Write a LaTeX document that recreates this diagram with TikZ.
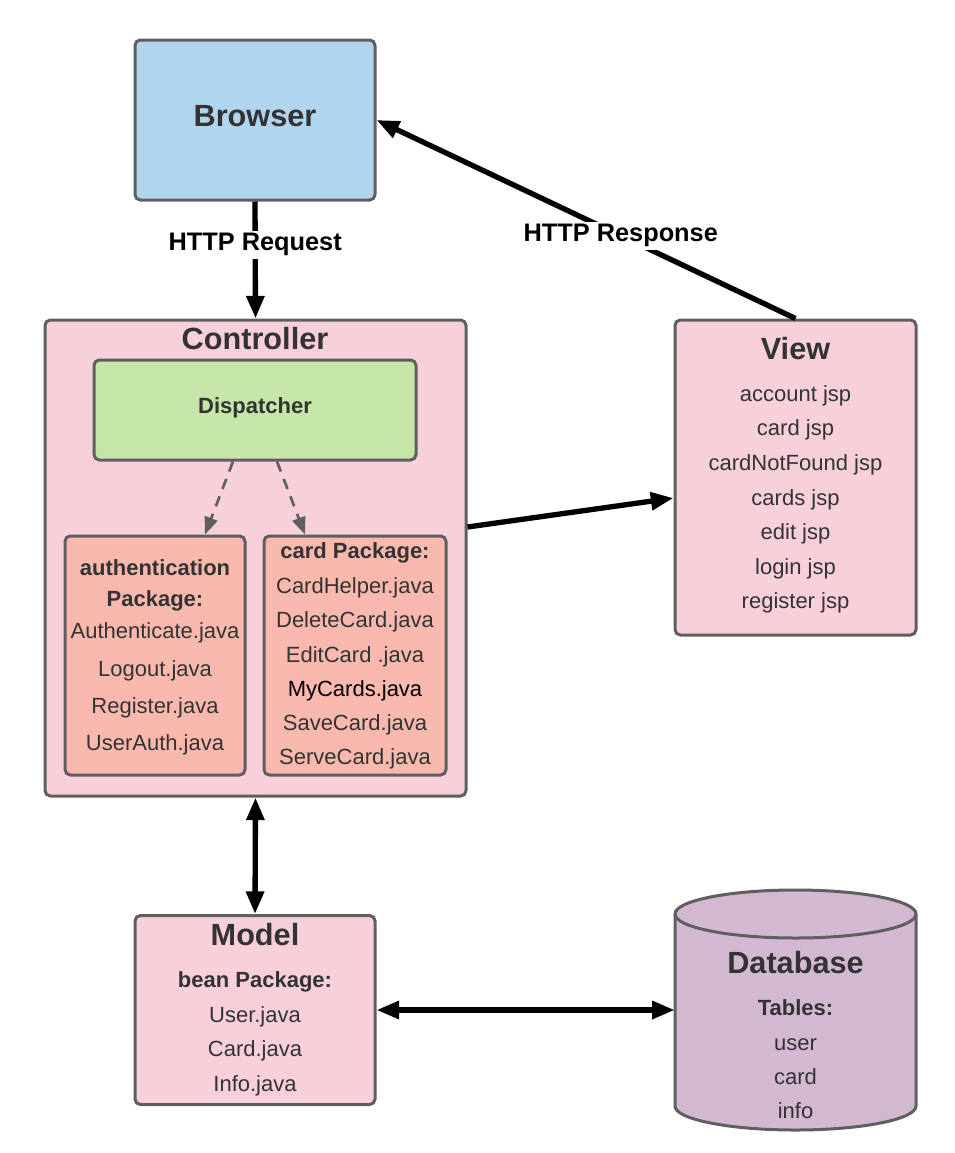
\documentclass[tikz,border=0pt]{standalone}
\usepackage{fontspec}
\setmainfont{Liberation Sans}
\usetikzlibrary{arrows.meta,calc}
\definecolor{browserblue}{RGB}{176,213,238}
\definecolor{mvcpink}{RGB}{247,208,217}
\definecolor{dispgreen}{RGB}{198,229,169}
\definecolor{pkgsalmon}{RGB}{249,185,174}
\definecolor{dbpurple}{RGB}{210,184,209}
\definecolor{edgegray}{RGB}{95,95,95}
\definecolor{textgray}{RGB}{51,51,51}
\tikzstyle{mvcbox}=[rectangle,draw=edgegray,line width=2.25pt,rounded corners=4pt,inner sep=0pt]
\tikzstyle{boxtitle}=[font=\bfseries\fontsize{23}{27}\selectfont,text=textgray,anchor=base,inner sep=0pt]
\tikzstyle{listitem}=[font=\fontsize{16.5}{20}\selectfont,text=textgray,anchor=base,inner sep=0pt]
\tikzstyle{bolditem}=[listitem,font=\bfseries\fontsize{16.5}{20}\selectfont]
\tikzstyle{flow}=[draw,line width=4pt,-{Triangle[length=17pt,width=13pt]}]
\tikzstyle{twoway}=[draw,line width=4pt,{Triangle[length=17pt,width=13pt]}-{Triangle[length=17pt,width=13pt]}]
\tikzstyle{dashedflow}=[draw=edgegray,line width=2pt,dash pattern=on 8pt off 6pt,-{Triangle[length=13pt,width=10pt]}]
\tikzstyle{httplabel}=[font=\bfseries\fontsize{19}{23}\selectfont,fill=white,inner sep=2pt]
\begin{document}
\begin{tikzpicture}[x=0.75pt,y=-0.75pt]
    \useasboundingbox (0,0) rectangle (954,1153);

    % boxes
    \node[mvcbox,fill=browserblue,minimum width=180pt,minimum height=120pt] (browser) at (255,120) {};
    \node[mvcbox,fill=mvcpink,minimum width=315.75pt,minimum height=357pt] (ctrl) at (255.5,558) {};
    \node[mvcbox,fill=dispgreen,minimum width=241.5pt,minimum height=75pt] (disp) at (255,410) {};
    \node[mvcbox,fill=pkgsalmon,minimum width=135pt,minimum height=179.25pt] (auth) at (155,655.5) {};
    \node[mvcbox,fill=pkgsalmon,minimum width=136.5pt,minimum height=179.25pt] (card) at (355,655.5) {};
    \node[mvcbox,fill=mvcpink,minimum width=180.75pt,minimum height=236.25pt] (view) at (795.5,477.5) {};
    \node[mvcbox,fill=mvcpink,minimum width=180pt,minimum height=141.75pt] (model) at (255,1010) {};

    % database cylinder
    \path[draw=edgegray,fill=dbpurple,line width=2.25pt] (675,914) -- (675,1106)
        arc[start angle=180,end angle=0,x radius=120.5,y radius=24] -- (916,914)
        arc[start angle=0,end angle=-180,x radius=120.5,y radius=24] -- cycle;
    \draw[edgegray,line width=2.25pt] (675,914) arc[start angle=180,end angle=0,x radius=120.5,y radius=24];
    \node[minimum width=180.75pt,minimum height=180pt,inner sep=0pt] (db) at (795.5,1010) {};

    % texts
    \node[boxtitle] (browsertxt) at (255,126) {Browser};
    \node[boxtitle] (ctrltxt) at (255,349) {Controller};
    \node[bolditem] (disptxt) at (255,413) {Dispatcher};

    \foreach \y/\txt [count=\i] in {575/authentication,606/Package:}
        \node[bolditem] (authhead\i) at (155,\y) {\txt};
    \foreach \y/\txt [count=\i] in {638/Authenticate.java,676/Logout.java,713/Register.java,750/UserAuth.java}
        \node[listitem] (authfile\i) at (155,\y) {\txt};

    \node[bolditem] (cardhead) at (355,558) {card Package:};
    \foreach \y/\txt/\col [count=\i] in {593/CardHelper.java/textgray,627/DeleteCard.java/textgray,662/EditCard .java/textgray,
        696/MyCards.java/black,730/SaveCard.java/textgray,764/ServeCard.java/textgray}
        \node[listitem,text=\col] (cardfile\i) at (355,\y) {\txt};

    \node[boxtitle] (viewtxt) at (795.5,359) {View};
    \foreach \y/\txt [count=\i] in {401/account jsp,435/card jsp,470/cardNotFound jsp,505/cards jsp,
        539/edit jsp,574/login jsp,608/register jsp}
        \node[listitem] (viewfile\i) at (795.5,\y) {\txt};

    \node[boxtitle] (modeltxt) at (255,945) {Model};
    \node[bolditem] (beanhead) at (255,987) {bean Package:};
    \foreach \y/\txt [count=\i] in {1022/User.java,1056/Card.java,1091/Info.java}
        \node[listitem] (modelfile\i) at (255,\y) {\txt};

    \node[boxtitle] (dbtxt) at (795.5,973) {Database};
    \node[bolditem] (tablehead) at (795.5,1015) {Tables:};
    \foreach \y/\txt [count=\i] in {1050/user,1084/card,1118/info}
        \node[listitem] (dbtable\i) at (795.5,\y) {\txt};

    % connectors
    \path[flow] (browser.south) -- node[httplabel,pos=0.37] (reqlbl) {HTTP Request} (ctrl.north);
    \path[flow] (view.north) -- node[httplabel,pos=0.417] (resplbl) {HTTP Response} (browser.east);
    \path[flow] ([yshift=23.25pt]ctrl.east) -- ([yshift=-15.4pt]view.west);
    \path[twoway] (ctrl.south) -- (model.north);
    \path[twoway] (model.east) -- (db.west);
    \path[dashedflow] ([xshift=-16.5pt]disp.south) -- ([xshift=37.5pt]auth.north);
    \path[dashedflow] ([xshift=16.5pt]disp.south) -- ([xshift=-37.5pt]card.north);

\end{tikzpicture}
\end{document}
